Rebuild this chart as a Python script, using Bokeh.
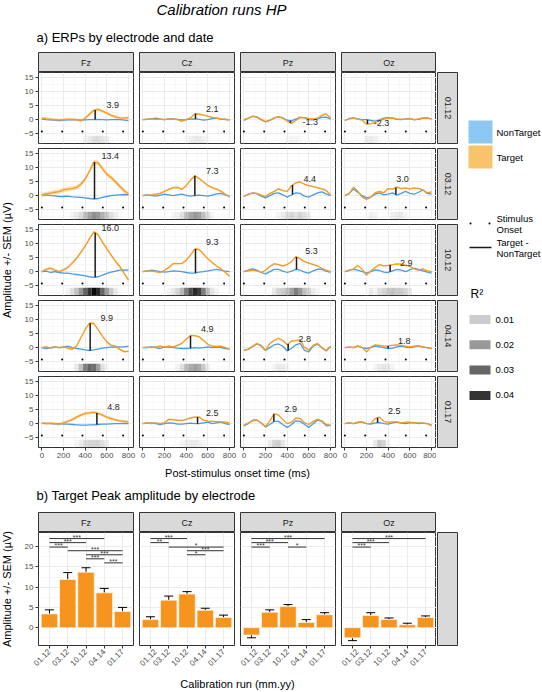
import math
import numpy as np
from bokeh.plotting import figure
from bokeh.models import (Range1d, FactorRange, LinearAxis, CategoricalAxis, FixedTicker,
                          Label, Spacer, ColumnDataSource)
from bokeh.layouts import row, column
from bokeh.embed import file_html
from bokeh.resources import INLINE

# ---------------------------------------------------------------- data
electrodes = ["Fz", "Cz", "Pz", "Oz"]
dates = ["01.12", "03.12", "10.12", "04.14", "01.17"]
time_ms = [0, 40, 80, 120, 160, 200, 240, 280, 320, 360, 400,
           440, 480, 520, 560, 600, 640, 680, 720, 760, 800]
onset_ms = [0, 187.5, 375, 562.5, 750]
x_ticks_ms = [0, 200, 400, 600, 800]
x_minor_ms = [100, 300, 500, 700]
y_ticks_uv = [-5, 0, 5, 10, 15]
y_minor_uv = [-7.5, -2.5, 2.5, 7.5, 12.5]
bar_ticks_uv = [0, 5, 10, 15, 20]
bar_minor_uv = [-2.5, 2.5, 7.5, 12.5, 17.5, 22.5]
r2_legend_values = [0.01, 0.02, 0.03, 0.04]

# Target / NonTarget ERPs (µV) at time_ms
tgt_fz_0112 = [0.5, 0.3, 0.2, 0.0, -0.2, 0.0, 0.2, 0.1, 0.0, -0.4, 0.5, 2.0, 3.3, 3.6, 3.0, 2.3, 1.5, 1.0, 0.6, 0.5, 0.7]
nt_fz_0112 = [0.2, 0.0, -0.1, -0.2, -0.3, -0.2, -0.1, 0.0, -0.1, -0.2, -0.1, 0.0, 0.0, 0.1, 0.0, -0.1, 0.0, 0.1, 0.0, -0.2, -0.3]
tgt_fz_0312 = [0.3, 0.6, 0.9, 1.2, 1.4, 2.0, 2.3, 2.5, 2.9, 4.0, 5.8, 8.7, 11.8, 11.5, 9.5, 7.5, 6.4, 4.9, 3.2, 1.7, 0.6]
nt_fz_0312 = [0.3, 0.2, 0.0, -0.1, -0.3, -0.3, -0.2, -0.4, -0.5, -0.6, -0.8, -1.0, -1.2, -1.0, -0.6, -0.3, 0.0, 0.2, 0.3, 0.4, 0.3]
tgt_fz_1012 = [0.0, 0.8, 1.2, 0.5, 0.0, 0.6, 1.5, 3.0, 4.7, 6.8, 9.0, 11.6, 14.0, 13.0, 10.3, 8.0, 5.8, 3.6, 1.8, -0.6, -3.0]
nt_fz_1012 = [0.0, 0.2, -0.3, 0.0, -0.3, -0.5, -0.5, -0.8, -1.0, -1.2, -1.5, -1.8, -2.0, -1.8, -1.2, -0.6, -0.2, 0.2, 0.5, 0.6, 0.5]
tgt_fz_0414 = [0.0, 0.3, -0.2, 0.2, 0.0, 0.3, -0.2, -0.6, 0.5, 3.5, 6.4, 8.6, 8.5, 6.3, 4.0, 2.0, 0.8, 0.5, -0.6, -1.4, -1.3]
nt_fz_0414 = [0.0, -0.3, 0.0, 0.3, 0.0, 0.2, 0.5, 0.0, -0.3, -0.5, -0.8, -1.0, -0.8, -0.5, -0.2, 0.0, 0.2, 0.2, 0.3, 0.3, 0.5]
tgt_fz_0117 = [0.2, 0.0, 0.2, 0.0, -0.2, 0.3, 0.8, 1.4, 2.3, 3.0, 3.6, 3.8, 4.0, 3.6, 3.0, 2.3, 1.8, 1.3, 1.0, 0.8, 0.6]
nt_fz_0117 = [0.2, 0.1, 0.0, -0.1, 0.0, -0.2, -0.2, -0.3, -0.4, -0.5, -0.5, -0.4, -0.4, -0.3, -0.2, -0.2, -0.1, 0.0, 0.0, 0.1, 0.0]

tgt_cz_0112 = [0.0, 0.2, 0.3, 0.1, 0.2, 0.0, 0.3, 0.2, 0.0, -0.5, 0.0, 0.6, 2.1, 1.9, 1.6, 1.2, 0.8, 0.5, 0.3, 0.2, -0.1]
nt_cz_0112 = [0.0, 0.1, 0.3, 0.5, 0.2, 0.0, 0.2, 0.3, 0.1, -0.1, 0.0, 0.2, 0.3, 0.1, -0.2, 0.0, 0.4, 0.5, 0.2, 0.0, -0.1]
tgt_cz_0312 = [0.0, 0.2, 0.3, 0.5, 0.8, 1.5, 2.2, 2.8, 2.9, 2.2, 3.5, 5.5, 7.0, 6.0, 4.8, 3.6, 2.8, 2.3, 1.6, 0.5, -0.5]
nt_cz_0312 = [0.0, 0.3, 0.0, -0.2, 0.2, 0.5, 0.3, 0.0, 0.3, 0.5, 0.1, -0.2, 0.0, 0.2, 0.0, -0.2, 0.2, 0.6, 0.8, 0.3, -0.2]
tgt_cz_1012 = [0.0, 0.3, 0.2, 0.0, -0.3, 0.5, 1.5, 2.8, 2.8, 2.9, 4.0, 5.8, 8.0, 7.8, 6.2, 4.5, 3.2, 2.0, 1.0, -0.2, -1.6]
nt_cz_1012 = [0.0, 0.2, 0.5, 0.3, 0.0, -0.2, 0.0, 0.3, 0.2, 0.0, -0.3, -0.5, -0.5, -0.2, 0.0, 0.3, 0.5, 0.8, 0.5, 0.2, 0.0]
tgt_cz_0414 = [0.0, 0.2, 0.0, 0.3, 0.5, 0.2, 0.5, 0.3, 0.8, 1.5, 3.0, 4.2, 4.2, 3.8, 2.5, 1.2, 0.5, 0.4, 0.5, 0.0, -0.5]
nt_cz_0414 = [0.0, 0.0, 0.3, 0.0, -0.3, 0.2, 0.3, 0.0, -0.2, -0.3, -0.3, -0.2, 0.0, -0.2, 0.0, 0.3, 0.0, 0.2, 0.0, -0.3, -0.4]
tgt_cz_0117 = [0.0, 0.3, 0.0, 0.3, 0.0, 0.3, 1.5, 1.4, 1.2, 1.1, 1.5, 2.0, 2.3, 2.3, 1.2, 0.9, 0.8, 0.7, 0.6, 0.5, 0.2]
nt_cz_0117 = [0.0, 0.2, 0.3, 0.0, -0.3, 0.0, 0.3, 0.2, -0.2, -0.2, 0.0, 0.2, 0.0, 0.0, 0.3, 0.5, 0.0, 0.3, 0.5, 0.0, -0.3]

tgt_pz_0112 = [0.0, 0.5, 1.1, 1.0, 0.0, -0.7, -0.2, 0.6, 1.0, 0.5, -0.5, -1.3, -0.3, 0.8, 0.7, 0.4, 0.3, 0.5, 1.5, 2.0, 0.6]
nt_pz_0112 = [-0.3, 0.5, 1.2, 0.9, 0.0, -0.8, -0.3, 0.5, 1.1, 0.6, -0.2, -0.4, 0.2, 0.8, 0.6, 0.0, -0.1, 0.3, 0.8, 0.9, 0.2]
tgt_pz_0312 = [-0.3, 0.5, 0.9, 0.8, 0.2, -0.3, 0.8, 1.5, 2.4, 1.8, 1.5, 3.5, 4.5, 4.8, 4.0, 3.5, 3.2, 2.8, 2.4, 1.8, 0.3]
nt_pz_0312 = [-0.3, 0.4, 1.0, 0.7, -0.2, -0.8, 0.0, 0.8, 1.0, 0.3, -0.5, 0.3, 1.0, 0.8, -0.2, -0.5, 0.3, 1.0, 1.3, 0.6, 0.0]
tgt_pz_1012 = [0.0, 0.3, 0.5, 0.3, -0.3, 0.5, 1.8, 2.8, 2.5, 2.0, 2.5, 3.5, 5.3, 4.5, 3.5, 3.0, 2.5, 2.0, 1.2, 0.5, 0.0]
nt_pz_1012 = [0.0, 0.5, 1.0, 0.5, -0.3, -0.8, 0.0, 0.8, 0.8, 0.2, -0.3, 0.2, 0.8, 0.5, -0.2, -0.5, 0.3, 0.9, 0.8, 0.2, -0.3]
tgt_pz_0414 = [-1.0, -0.5, 0.5, 1.5, 0.5, -1.0, 1.5, 2.5, 3.3, 2.5, 1.0, 2.3, 2.5, 2.8, 0.0, -0.8, 0.8, 1.5, 0.0, -1.0, 0.5]
nt_pz_0414 = [-1.0, -0.6, 0.3, 1.3, 0.8, -1.0, 0.0, 1.0, 1.3, 0.5, -1.2, -0.2, 1.0, 1.5, -1.0, -1.5, 0.5, 1.2, 0.0, -1.2, 0.3]
tgt_pz_0117 = [-0.5, 0.2, 1.0, 1.2, 0.3, -1.0, 1.0, 3.5, 3.0, 1.5, 0.0, 0.5, 2.0, 1.8, 0.3, -0.3, 0.8, 1.5, 1.0, -0.3, -0.5]
nt_pz_0117 = [-0.8, 0.0, 1.2, 1.3, 0.2, -1.2, -0.3, 0.8, 0.8, -0.3, -1.3, -0.3, 1.0, 0.8, -0.3, -1.3, 0.0, 1.2, 0.8, -0.8, -0.6]

tgt_oz_0112 = [-0.3, 0.3, 0.5, 0.2, -0.2, -1.6, -1.4, -1.0, -0.4, 0.2, 0.5, 0.6, 0.3, 0.2, 0.1, 0.4, -0.1, 0.3, 0.6, 0.5, 0.3]
nt_oz_0112 = [-0.3, 0.4, 0.6, 0.3, 0.0, 0.0, -0.3, -0.5, -0.1, 0.5, 0.7, 0.5, 0.1, 0.0, 0.2, 0.4, 0.0, 0.1, 0.5, 0.6, 0.3]
tgt_oz_0312 = [0.0, 0.7, 3.0, 1.5, -0.5, -1.3, -0.5, 1.0, 1.5, 1.0, 2.5, 2.3, 3.0, 2.5, 2.7, 2.4, 2.7, 2.5, 2.0, 1.0, 1.3]
nt_oz_0312 = [0.0, 0.8, 2.3, 1.2, 0.0, -0.8, -0.5, 0.5, 1.0, 0.3, 0.5, 1.0, 0.2, 0.8, 1.5, 0.8, 0.5, 1.2, 2.0, 0.8, 0.5]
tgt_oz_1012 = [0.0, 0.4, 1.0, 2.2, 0.8, -1.2, 0.2, 1.5, 2.5, 2.0, 2.2, 2.5, 2.7, 2.6, 2.3, 1.8, 1.0, 0.5, 1.0, 0.3, 0.0]
nt_oz_1012 = [0.0, 0.5, 0.8, 0.5, 0.0, -0.5, 0.0, 0.6, 0.4, -0.2, -0.3, 0.3, 0.8, 0.5, 0.0, 0.6, 1.2, 0.8, 0.3, -0.2, -0.5]
tgt_oz_0414 = [0.0, 0.2, 0.0, 0.6, 0.0, -1.5, 0.2, 1.0, 0.8, 0.5, 0.6, 0.8, 1.0, 0.8, 0.5, 0.3, 0.5, 0.6, 0.3, 0.0, -0.3]
nt_oz_0414 = [0.0, 0.2, 0.0, 0.5, 0.0, -0.3, 0.0, 0.5, 0.3, 0.0, -0.3, -0.2, 0.3, 0.5, 0.2, 0.0, 0.3, 0.5, 0.2, 0.0, -0.3]
tgt_oz_0117 = [0.0, 0.3, 0.0, 0.5, 0.6, 0.0, 0.0, 1.8, 2.3, 0.8, 0.5, 0.6, 0.6, 0.3, 0.5, 0.5, 0.3, 0.3, 0.2, 0.0, -0.7]
nt_oz_0117 = [0.0, 0.3, 0.0, 0.4, 0.5, 0.0, -0.2, 0.3, 0.4, 0.0, -0.2, 0.3, 0.5, 0.2, 0.0, 0.3, 0.4, 0.0, 0.2, 0.0, -0.5]

# R^2 (Target vs NonTarget) at time_ms
r2_fz_0112 = [0, 0, 0, 0, 0, 0, 0, 0, 0, 0, 0.002, 0.004, 0.006, 0.006, 0.005, 0.003, 0.001, 0, 0, 0, 0]
r2_cz_0112 = [0, 0, 0, 0, 0, 0, 0, 0, 0, 0, 0.001, 0.003, 0.004, 0.004, 0.003, 0.001, 0, 0, 0, 0, 0]
r2_pz_0112 = [0, 0, 0, 0, 0, 0, 0, 0, 0, 0, 0.001, 0.002, 0.002, 0.001, 0, 0, 0, 0, 0, 0, 0]
r2_oz_0112 = [0, 0, 0, 0, 0, 0.003, 0.004, 0.003, 0.001, 0, 0, 0, 0, 0, 0, 0, 0, 0, 0, 0, 0]
r2_fz_0312 = [0, 0, 0, 0, 0, 0, 0, 0.002, 0.004, 0.007, 0.012, 0.018, 0.022, 0.02, 0.015, 0.01, 0.006, 0.003, 0.001, 0, 0]
r2_cz_0312 = [0, 0, 0, 0, 0, 0, 0, 0.002, 0.003, 0.006, 0.012, 0.017, 0.02, 0.018, 0.012, 0.006, 0.002, 0, 0, 0, 0]
r2_pz_0312 = [0, 0, 0, 0, 0, 0, 0, 0, 0.002, 0.004, 0.006, 0.008, 0.006, 0.008, 0.006, 0.003, 0, 0, 0, 0, 0]
r2_oz_0312 = [0, 0, 0, 0, 0, 0, 0.003, 0.002, 0, 0, 0, 0.003, 0.004, 0.004, 0.002, 0, 0, 0, 0, 0, 0]
r2_fz_1012 = [0, 0, 0, 0, 0, 0, 0.002, 0.006, 0.012, 0.02, 0.03, 0.04, 0.048, 0.042, 0.03, 0.018, 0.01, 0.004, 0.001, 0, 0]
r2_cz_1012 = [0, 0, 0, 0, 0, 0, 0.002, 0.004, 0.008, 0.014, 0.025, 0.035, 0.042, 0.038, 0.025, 0.012, 0.005, 0.002, 0, 0, 0]
r2_pz_1012 = [0, 0, 0, 0, 0, 0, 0, 0.004, 0.008, 0.01, 0.012, 0.018, 0.025, 0.02, 0.012, 0.008, 0.004, 0.002, 0, 0, 0]
r2_oz_1012 = [0, 0, 0, 0, 0, 0, 0.004, 0.002, 0.006, 0.008, 0.01, 0.012, 0.01, 0.01, 0.008, 0.004, 0, 0, 0, 0, 0]
r2_fz_0414 = [0, 0, 0, 0, 0, 0, 0, 0, 0.004, 0.012, 0.024, 0.03, 0.028, 0.018, 0.006, 0.001, 0, 0, 0, 0, 0]
r2_cz_0414 = [0, 0, 0, 0, 0, 0, 0, 0, 0.002, 0.006, 0.012, 0.016, 0.018, 0.016, 0.01, 0.003, 0, 0, 0, 0, 0]
r2_pz_0414 = [0, 0, 0, 0, 0, 0, 0, 0.002, 0.004, 0.004, 0.002, 0, 0, 0, 0, 0, 0, 0, 0, 0, 0]
r2_oz_0414 = [0, 0, 0, 0, 0, 0, 0, 0.002, 0.004, 0.005, 0.004, 0.002, 0, 0, 0, 0, 0, 0, 0, 0, 0]
r2_fz_0117 = [0, 0, 0, 0, 0, 0, 0, 0, 0.002, 0.004, 0.006, 0.008, 0.008, 0.008, 0.006, 0.003, 0, 0, 0, 0, 0]
r2_cz_0117 = [0, 0, 0, 0, 0, 0, 0, 0, 0, 0.002, 0.003, 0.004, 0.004, 0.003, 0.002, 0, 0, 0, 0, 0, 0]
r2_pz_0117 = [0, 0, 0, 0, 0, 0, 0.004, 0.008, 0.009, 0.005, 0.001, 0, 0, 0, 0, 0, 0, 0, 0, 0, 0]
r2_oz_0117 = [0, 0, 0, 0, 0, 0, 0, 0.004, 0.01, 0.008, 0.002, 0, 0, 0, 0, 0, 0, 0, 0, 0, 0]

# Target SEM per date (µV)
sem_fz = [0.5, 0.8, 0.5, 0.4, 0.5]
sem_cz = [0.3, 0.3, 0.3, 0.3, 0.3]
sem_pz = [0.2, 0.25, 0.25, 0.25, 0.2]
sem_oz = [0.2, 0.25, 0.2, 0.2, 0.2]

# Peak difference: time (ms), label, label centre (ms, µV)
peak_ms_fz = [492, 486, 492, 446, 508]
peak_ms_cz = [486, 480, 486, 440, 505]
peak_ms_pz = [430, 449, 486, 409, 277]
peak_ms_oz = [209, 471, 418, 400, 302]
peak_txt_fz = ["3.9", "13.4", "16.0", "9.9", "4.8"]
peak_txt_cz = ["2.1", "7.3", "9.3", "4.9", "2.5"]
peak_txt_pz = ["-1.3", "4.4", "5.3", "2.8", "2.9"]
peak_txt_oz = ["-2.3", "3.0", "2.9", "1.8", "2.5"]
label_ms_fz = [655, 631, 631, 600, 662]
label_ms_cz = [640, 640, 640, 594, 640]
label_ms_pz = [612, 609, 625, 563, 434]
label_ms_oz = [338, 532, 566, 548, 455]
label_uv_fz = [5.2, 13.9, 15.5, 10.4, 5.8]
label_uv_cz = [3.7, 8.7, 10.4, 6.4, 3.7]
label_uv_pz = [-0.9, 5.8, 7.2, 2.9, 5.2]
label_uv_oz = [-1.2, 5.8, 3.2, 2.5, 4.3]

# b) Target peak amplitude (mean, SEM) per calibration run
bar_fz = [3.4, 11.9, 13.7, 8.6, 4.0]
bar_cz = [2.0, 6.8, 8.3, 4.3, 2.5]
bar_pz = [-1.8, 3.8, 5.2, 1.3, 3.2]
bar_oz = [-2.5, 3.0, 2.0, 0.7, 2.5]
bar_sem_fz = [1.0, 1.7, 1.1, 1.1, 1.0]
bar_sem_cz = [0.7, 1.0, 0.6, 0.5, 0.6]
bar_sem_pz = [0.7, 0.6, 0.5, 0.7, 0.5]
bar_sem_oz = [0.7, 0.7, 0.4, 0.4, 0.4]

# significance brackets: (from, to, height µV, stars)
sig_fz = [("01.12", "04.14", 22.0, "***"), ("01.12", "10.12", 21.0, "***"), ("01.12", "03.12", 19.9, "***"),
          ("03.12", "01.17", 19.0, "***"), ("10.12", "01.17", 18.0, "***"), ("10.12", "04.14", 17.0, "***"),
          ("04.14", "01.17", 16.0, "***")]
sig_cz = [("01.12", "10.12", 22.0, "***"), ("01.12", "03.12", 21.0, "**"), ("03.12", "01.17", 19.9, "*"),
          ("10.12", "01.17", 19.0, "***"), ("10.12", "04.14", 18.0, "*")]
sig_pz = [("01.12", "01.17", 22.0, "***"), ("01.12", "10.12", 21.0, "***"), ("01.12", "03.12", 19.9, "***"),
          ("10.12", "04.14", 19.9, "*")]
sig_oz = [("01.12", "01.17", 22.0, "***"), ("01.12", "10.12", 21.0, "***"), ("01.12", "03.12", 19.9, "***")]

# ---------------------------------------------------------------- style
FONT = "Liberation Sans"
TGT_COLOR = "#F59A22"
NT_COLOR = "#4A9BE6"
RIB_COLOR = "#F5A623"
BAR_COLOR = "#F7941E"
GRID_MAJ = "#EBEBEB"
GRID_MIN = "#F4F4F4"
BORDER = "#333333"
STRIP = "#D9D9D9"
TICK_TXT = "#4D4D4D"
R2_MAX = 0.05

G = globals()


def base_fig(fw, fh, xr, yr, **kw):
    opts = dict(frame_width=fw, frame_height=fh, x_range=xr, y_range=yr,
                output_backend="svg", toolbar_location=None, min_border=0, title=None)
    opts.update(kw)
    p = figure(**opts)
    p.outline_line_color = None
    p.background_fill_color = "white"
    p.border_fill_color = "white"
    return p


def deco_fig(w, h):
    return base_fig(w, h, Range1d(0, w), Range1d(h, 0), x_axis_type=None, y_axis_type=None)


def add_text(p, x, y, text, size, color="#000000", align="center", baseline="middle",
             angle=0.0, style="normal"):
    p.add_layout(Label(x=x, y=y, text=text, text_font=FONT, text_font_size=f"{size}px",
                       text_color=color, text_align=align, text_baseline=baseline,
                       angle=angle, text_font_style=style))


def style_axis(ax, size=8):
    ax.major_label_text_font = FONT
    ax.major_label_text_font_size = f"{size}px"
    ax.major_label_text_color = TICK_TXT
    ax.axis_line_color = None
    ax.major_tick_line_color = BORDER
    ax.major_tick_out = 3
    ax.major_tick_in = 0
    ax.minor_tick_line_color = None
    ax.major_label_standoff = 2


def strip_fig(w, h, text, ml=0, mr=0, mb=0, vertical=False):
    p = base_fig(w, h, Range1d(0, 1), Range1d(0, 1), x_axis_type=None, y_axis_type=None,
                 min_border_left=ml, min_border_right=mr, min_border_bottom=mb)
    p.background_fill_color = STRIP
    p.outline_line_color = BORDER
    if text:
        add_text(p, 0.5, 0.5, text, 9, "#1A1A1A", angle=(-math.pi / 2 if vertical else 0.0))
    return p


PW, PH = 95, 71
GAP = 6
VGAP = 5
YT = 20          # width of the y-title column
ML = 18          # room for y tick labels


def erp_panel(ei, di):
    e, d = electrodes[ei], dates[di]
    el = e.lower()
    key = f"{el}_{d.replace('.', '')}"
    tgt = np.array(G[f"tgt_{key}"], float)
    nt = np.array(G[f"nt_{key}"], float)
    r2 = np.array(G[f"r2_{key}"], float)
    sem = G[f"sem_{el}"][di]
    bottom = di == len(dates) - 1
    p = base_fig(PW, PH, Range1d(-31, 846), Range1d(-8.4, 16.6),
                 x_axis_location=None, y_axis_location=None,
                 min_border_left=ML if ei == 0 else 0,
                 min_border_right=GAP if ei < 3 else 0,
                 min_border_bottom=16 if bottom else VGAP)
    p.outline_line_color = BORDER
    p.outline_line_width = 1
    p.xgrid.ticker = FixedTicker(ticks=x_ticks_ms, minor_ticks=x_minor_ms)
    p.ygrid.ticker = FixedTicker(ticks=y_ticks_uv, minor_ticks=y_minor_uv)
    p.grid.grid_line_color = GRID_MAJ
    p.grid.grid_line_width = 1
    p.grid.minor_grid_line_color = GRID_MIN
    p.grid.minor_grid_line_width = 0.6

    # R^2 strip
    alpha = list(np.clip(r2 / R2_MAX, 0, 1))
    p.rect(x=time_ms, y=-7.0, width=40, height=2.6, fill_color="black",
           fill_alpha=alpha, line_color=None)
    # SEM ribbon + curves
    p.varea(x=time_ms, y1=list(tgt - sem), y2=list(tgt + sem), fill_color=RIB_COLOR, fill_alpha=0.35)
    p.line(time_ms, list(nt), line_color=NT_COLOR, line_width=1.3)
    p.line(time_ms, list(tgt), line_color=TGT_COLOR, line_width=1.3)
    # stimulus onsets
    p.scatter(onset_ms, [-4.2] * len(onset_ms), size=2, color="black", line_width=0)
    # peak difference line + label
    pt = G[f"peak_ms_{el}"][di]
    y_nt = float(np.interp(pt, time_ms, nt))
    y_tg = float(np.interp(pt, time_ms, tgt))
    p.segment(x0=[pt], y0=[y_nt], x1=[pt], y1=[y_tg], line_color="#1A1A1A", line_width=1.5)
    add_text(p, G[f"label_ms_{el}"][di], G[f"label_uv_{el}"][di], G[f"peak_txt_{el}"][di], 9, "#262626")

    if ei == 0:
        ax = LinearAxis(ticker=FixedTicker(ticks=y_ticks_uv))
        style_axis(ax)
        p.add_layout(ax, "left")
    if bottom:
        ax = LinearAxis(ticker=FixedTicker(ticks=x_ticks_ms))
        style_axis(ax)
        p.add_layout(ax, "below")
    return p


BPH = 113
BAX = 28


def bar_panel(ei):
    e = electrodes[ei]
    el = e.lower()
    vals = G[f"bar_{el}"]
    sems = G[f"bar_sem_{el}"]
    p = base_fig(PW, BPH, FactorRange(*dates, range_padding=0.04), Range1d(-4.4, 23.5),
                 x_axis_location=None, y_axis_location=None,
                 min_border_left=ML if ei == 0 else 0,
                 min_border_right=GAP if ei < 3 else 0,
                 min_border_bottom=BAX)
    p.outline_line_color = BORDER
    p.xgrid.grid_line_color = GRID_MAJ
    p.ygrid.ticker = FixedTicker(ticks=bar_ticks_uv, minor_ticks=bar_minor_uv)
    p.ygrid.grid_line_color = GRID_MAJ
    p.ygrid.minor_grid_line_color = GRID_MIN
    p.ygrid.minor_grid_line_width = 0.6

    ends = [v + s if v >= 0 else v - s for v, s in zip(vals, sems)]
    p.segment(x0=dates, y0=vals, x1=dates, y1=ends, line_color="black", line_width=1)
    p.scatter(x=dates, y=ends, marker="dash", size=9, line_color="black", line_width=1)
    p.vbar(x=dates, top=vals, width=0.9, fill_color=BAR_COLOR, line_color="white", line_width=0.6)

    sigs = G[f"sig_{el}"]
    xs0 = [s[0] for s in sigs]
    xs1 = [s[1] for s in sigs]
    hs = [s[2] for s in sigs]
    p.segment(x0=xs0, y0=hs, x1=xs1, y1=hs, line_color="#333333", line_width=1)
    mids = []
    for a, b, h, t in sigs:
        m = (dates.index(a) + dates.index(b)) / 2.0
        base = int(math.floor(m))
        mids.append((dates[base], m - base))
    src = ColumnDataSource(data=dict(x=mids, y=[h + 0.35 for h in hs], t=[s[3] for s in sigs]))
    p.text(x="x", y="y", text="t", source=src, text_font={"value": FONT}, text_font_size="7px",
           text_color="#333333", text_align="center", text_baseline="middle")

    xax = CategoricalAxis()
    style_axis(xax)
    xax.major_label_orientation = math.pi / 4
    p.add_layout(xax, "below")
    if ei == 0:
        ax = LinearAxis(ticker=FixedTicker(ticks=bar_ticks_uv))
        style_axis(ax)
        p.add_layout(ax, "left")
    return p


# ---------------------------------------------------------------- layout
W = 542
header_a = deco_fig(W, 52)
add_text(header_a, 221, 8.5, "Calibration runs HP", 15, style="italic")
add_text(header_a, 36, 37, "a) ERPs by electrode and date", 13, align="left")

strip_row_a = row(*[strip_fig(PW, 20, e, ml=ML if i == 0 else 0, mr=GAP if i < 3 else 0)
                    for i, e in enumerate(electrodes)], Spacer(width=22, height=20))
rows_a = [strip_row_a]
for di, d in enumerate(dates):
    panels = [erp_panel(ei, di) for ei in range(len(electrodes))]
    rs = strip_fig(21, PH, d, ml=1, mb=16 if di == len(dates) - 1 else VGAP, vertical=True)
    rows_a.append(row(*panels, rs))
block_a = column(*rows_a)
HA = 20 + 4 * (PH + VGAP) + PH + 16

ytitle_a = deco_fig(YT, HA)
add_text(ytitle_a, 6.5, 20 + (5 * PH + 4 * VGAP) / 2, "Amplitude +/- SEM (µV)", 11, angle=math.pi / 2)

LW = W - YT - (ML + 4 * PW + 3 * GAP + 22)
legend_a = deco_fig(LW, HA)
legend_a.quad(left=[10], right=[34], top=[68], bottom=[91], fill_color="#8DC8F2", line_color=None)
legend_a.quad(left=[10], right=[34], top=[93], bottom=[116], fill_color="#F7C36B", line_color=None)
add_text(legend_a, 38, 80, "NonTarget", 9.5, align="left")
add_text(legend_a, 38, 105, "Target", 9.5, align="left")
legend_a.scatter([12, 31], [171, 171], size=2, color="black", line_width=0)
add_text(legend_a, 38, 166, "Stimulus", 9.5, align="left")
add_text(legend_a, 38, 177, "Onset", 9.5, align="left")
legend_a.segment(x0=[11], y0=[195], x1=[33], y1=[195], line_color="#1A1A1A", line_width=1.5)
add_text(legend_a, 38, 190, "Target -", 9.5, align="left")
add_text(legend_a, 38, 201, "NonTarget", 9.5, align="left")
add_text(legend_a, 12, 241, "R²", 12, align="left")
for k, v in enumerate(r2_legend_values):
    yc = 267 + 25.3 * k
    legend_a.quad(left=[11], right=[32], top=[yc - 4.5], bottom=[yc + 4.5], fill_color="black",
                  fill_alpha=v / R2_MAX, line_color=None)
    add_text(legend_a, 37, yc, f"{v:.2f}", 9.5, align="left")

xtitle_a = deco_fig(W, 18)
add_text(xtitle_a, 237, 9, "Post-stimulus onset time (ms)", 11)

header_b = deco_fig(W, 31)
add_text(header_b, 36, 14, "b) Target Peak amplitude by electrode", 13, align="left")

strip_row_b = row(*[strip_fig(PW, 20, e, ml=ML if i == 0 else 0, mr=GAP if i < 3 else 0)
                    for i, e in enumerate(electrodes)], Spacer(width=22, height=20))
panel_row_b = row(*[bar_panel(ei) for ei in range(len(electrodes))],
                  strip_fig(21, BPH, "", ml=1, mb=BAX))
block_b = column(strip_row_b, panel_row_b)
HB = 20 + BPH + BAX
ytitle_b = deco_fig(YT, HB)
add_text(ytitle_b, 6.5, 20 + BPH / 2, "Amplitude +/- SEM (µV)", 11, angle=math.pi / 2)

xtitle_b = deco_fig(W, 18)
add_text(xtitle_b, 237, 10, "Calibration run (mm.yy)", 11)

layout = column(header_a, row(ytitle_a, block_a, legend_a), xtitle_a,
                header_b, row(ytitle_b, block_b), xtitle_b)

open("out.html", "w").write(file_html(layout, INLINE))
